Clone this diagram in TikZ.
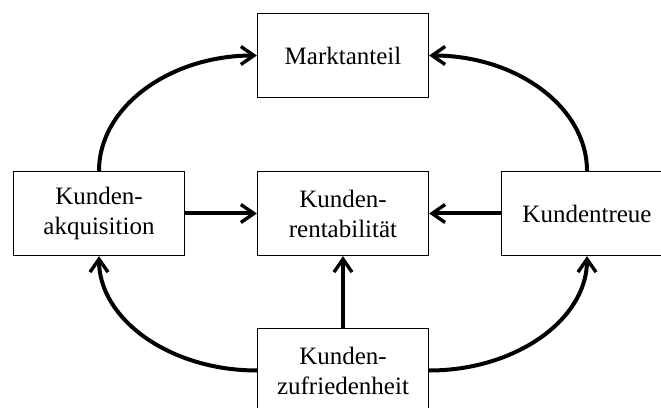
\documentclass[tikz,border=0pt]{standalone}
\usepackage{fontspec}
\setmainfont{Liberation Serif}
\usetikzlibrary{arrows.meta}
\begin{document}
\begin{tikzpicture}[x=1pt,y=1pt,
  box/.style={draw, line width=1.3pt, minimum width=171pt, minimum height=84pt,
    inner sep=0pt, align=center, font=\fontsize{25}{30}\selectfont},
  link/.style={line width=4pt, -{Straight Barb[length=13pt,width=18pt,line width=3.4pt]}}]
\useasboundingbox (0,0) rectangle (661,407);
\clip (0,0) rectangle (661,407);
\node[box] (markt) at (343,351.5) {Marktanteil};
\node[box] (akq)   at (99,193.5)  {Kunden-\\akquisition};
\node[box] (rent)  at (343,193.5) {Kunden-\\rentabilität};
\node[box] (treue) at (587,193.5) {Kundentreue};
\node[box] (zuf)   at (343,36.5)  {Kunden-\\zufriedenheit};
% quarter-ellipse arcs around the central box
\draw[link] (akq.north) .. controls +(0,64) and +(-87,0) .. (markt.west);
\draw[link] (treue.north) .. controls +(0,64) and +(87,0) .. (markt.east);
\draw[link] (zuf.west) .. controls +(-87,0) and +(0,-63) .. (akq.south);
\draw[link] (zuf.east) .. controls +(87,0) and +(0,-63) .. (treue.south);
% straight links into the centre
\draw[link] (akq.east) -- (rent.west);
\draw[link] (treue.west) -- (rent.east);
\draw[link] (zuf.north) -- (rent.south);
\end{tikzpicture}
\end{document}
